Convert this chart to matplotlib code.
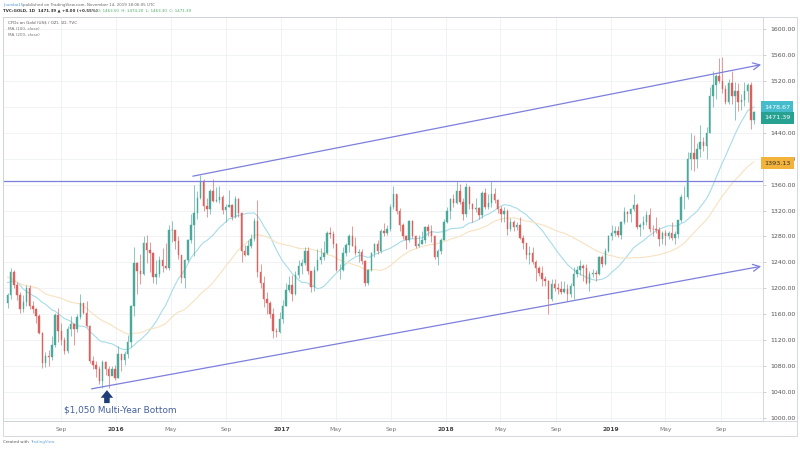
import numpy as np
import pandas as pd
import matplotlib
matplotlib.use("Agg")
import matplotlib.pyplot as plt
import matplotlib.dates as mdates
import matplotlib.transforms as mtrans
from matplotlib.patches import Rectangle

# weekly closes before the visible window (only used to warm up the moving averages)
pre_close = [1293, 1311, 1305, 1287,
             1268, 1230, 1216, 1215,
             1192, 1222, 1239, 1231, 1172,
             1169, 1185, 1201, 1175,
             1191, 1222, 1195, 1195, 1184,
             1216, 1277, 1294, 1279,
             1234, 1228, 1204, 1213,
             1167, 1153, 1183, 1199,
             1195, 1207, 1203, 1179, 1178]

# weekly candles, week ending 2015-05-08 .. 2019-11-15
close = [
    # 2015
    1189, 1225, 1205, 1190,
    1168, 1179, 1201, 1173,
    1168, 1157, 1131, 1085, 1095,
    1094, 1113, 1159, 1134,
    1121, 1103, 1138, 1145,
    1137, 1156, 1177, 1162, 1142,
    1088, 1081, 1076, 1057,
    1086, 1075, 1065, 1076,
    # 2016
    1061, 1098, 1089, 1098, 1117,
    1173, 1239, 1227, 1222,
    1270, 1259, 1255, 1217,
    1222, 1243, 1235, 1232, 1290,
    1290, 1273, 1252, 1216,
    1243, 1275, 1298, 1316,
    1340, 1366, 1327, 1322, 1350,
    1335, 1336, 1341, 1321,
    1326, 1328, 1310, 1338, 1316,
    1257, 1251, 1266, 1276,
    1304, 1225, 1208, 1183,
    1177, 1160, 1134, 1132, 1152,
    # 2017
    1173, 1197, 1205, 1191,
    1220, 1234, 1239, 1257,
    1226, 1202, 1229, 1243, 1249,
    1254, 1286, 1284, 1268,
    1228, 1228, 1254, 1267,
    1280, 1266, 1254, 1256, 1242,
    1209, 1228, 1255, 1269,
    1258, 1289, 1285, 1291,
    1325, 1346, 1320, 1297, 1280,
    1274, 1304, 1280, 1266,
    1269, 1274, 1294, 1288,
    1280, 1248, 1257, 1275, 1303,
    # 2018
    1320, 1338, 1332, 1350,
    1333, 1315, 1356, 1330,
    1323, 1324, 1313, 1347, 1325,
    1332, 1345, 1336, 1323,
    1315, 1320, 1291, 1302,
    1294, 1298, 1278, 1270, 1252,
    1255, 1241, 1231, 1223,
    1214, 1212, 1184, 1206, 1201,
    1199, 1194, 1199, 1192,
    1203, 1222, 1228, 1235,
    1232, 1209, 1222, 1223, 1222,
    1248, 1238, 1257, 1280,
    # 2019
    1285, 1289, 1282, 1303,
    1318, 1314, 1322, 1329,
    1294, 1298, 1302, 1313, 1292,
    1291, 1290, 1276, 1286,
    1280, 1285, 1277, 1284, 1305,
    1341, 1341, 1400, 1409,
    1399, 1415, 1426, 1419,
    1440, 1497, 1513, 1527, 1520,
    1507, 1488, 1517, 1497,
    1505, 1488, 1490, 1505,
    1514, 1459, 1471.39,
]

high = [
    1193, 1232, 1228, 1210,
    1195, 1189, 1205, 1205,
    1180, 1170, 1160, 1133, 1102,
    1105, 1126, 1162, 1170,
    1146, 1125, 1142, 1157,
    1147, 1160, 1191, 1178, 1180,
    1143, 1096, 1088, 1080,
    1089, 1088, 1080, 1080,
    1082, 1111, 1098, 1103, 1128,
    1174, 1263, 1241, 1253,
    1280, 1283, 1271, 1256,
    1244, 1250, 1262, 1270, 1297,
    1304, 1283, 1280, 1252,
    1245, 1276, 1315, 1359,
    1350, 1375, 1368, 1340, 1353,
    1368, 1357, 1358, 1344,
    1330, 1352, 1330, 1343, 1340,
    1317, 1267, 1274, 1284,
    1308, 1337, 1237, 1219,
    1195, 1180, 1169, 1139, 1164,
    1182, 1208, 1219, 1221,
    1226, 1244, 1245, 1264,
    1263, 1227, 1234, 1260, 1262,
    1273, 1289, 1295, 1289,
    1270, 1237, 1264, 1270,
    1284, 1296, 1279, 1260, 1260,
    1244, 1230, 1256, 1270,
    1274, 1291, 1301, 1297,
    1330, 1358, 1346, 1324, 1301,
    1283, 1306, 1306, 1283,
    1283, 1288, 1296, 1299,
    1298, 1282, 1260, 1277, 1307,
    1326, 1339, 1345, 1366,
    1361, 1339, 1362, 1358,
    1331, 1340, 1326, 1350, 1355,
    1346, 1365, 1355, 1338,
    1327, 1326, 1322, 1308,
    1306, 1303, 1310, 1283, 1270,
    1265, 1263, 1244, 1235,
    1234, 1219, 1213, 1215, 1214,
    1209, 1212, 1211, 1206,
    1208, 1233, 1234, 1243,
    1238, 1237, 1226, 1230, 1229,
    1250, 1252, 1262, 1283,
    1298, 1296, 1296, 1304,
    1326, 1320, 1324, 1346,
    1331, 1301, 1311, 1320, 1324,
    1298, 1310, 1295, 1288,
    1290, 1289, 1303, 1288, 1306,
    1346, 1358, 1411, 1439,
    1437, 1424, 1452, 1434,
    1449, 1510, 1535, 1530, 1555,
    1557, 1513, 1523, 1535,
    1519, 1516, 1499, 1518,
    1517, 1518, 1474,
]

low = [
    1170, 1183, 1201, 1182,
    1162, 1163, 1172, 1168,
    1162, 1147, 1130, 1077, 1078,
    1080, 1090, 1110, 1118,
    1112, 1098, 1100, 1126,
    1113, 1133, 1152, 1160, 1141,
    1085, 1075, 1063, 1052,
    1046, 1066, 1046, 1066,
    1058, 1061, 1073, 1082, 1093,
    1110, 1157, 1191, 1207,
    1221, 1239, 1225, 1208,
    1207, 1218, 1225, 1230, 1229,
    1272, 1260, 1245, 1209,
    1200, 1241, 1270, 1250,
    1307, 1338, 1320, 1310, 1314,
    1333, 1333, 1331, 1314,
    1302, 1326, 1305, 1309, 1310,
    1241, 1250, 1252, 1262,
    1273, 1218, 1201, 1171,
    1160, 1155, 1123, 1125, 1131,
    1147, 1172, 1195, 1180,
    1190, 1216, 1222, 1236,
    1222, 1195, 1196, 1227, 1238,
    1243, 1253, 1278, 1262,
    1227, 1214, 1227, 1250,
    1256, 1265, 1251, 1240, 1237,
    1204, 1205, 1227, 1248,
    1253, 1255, 1281, 1282,
    1288, 1322, 1315, 1288, 1276,
    1260, 1272, 1278, 1262,
    1264, 1268, 1270, 1280,
    1272, 1245, 1236, 1253, 1274,
    1301, 1307, 1325, 1330,
    1330, 1306, 1310, 1322,
    1303, 1317, 1307, 1309, 1322,
    1322, 1325, 1332, 1316,
    1302, 1303, 1283, 1289,
    1289, 1290, 1276, 1261, 1246,
    1238, 1237, 1211, 1219,
    1204, 1204, 1160, 1180, 1196,
    1191, 1191, 1193, 1181,
    1186, 1183, 1218, 1221,
    1212, 1206, 1196, 1217, 1212,
    1221, 1233, 1236, 1256,
    1275, 1280, 1279, 1276,
    1300, 1302, 1302, 1320,
    1292, 1281, 1291, 1298, 1287,
    1280, 1285, 1266, 1268,
    1267, 1276, 1275, 1268, 1278,
    1303, 1322, 1338, 1383,
    1381, 1385, 1402, 1412,
    1400, 1440, 1480, 1492, 1516,
    1502, 1485, 1484, 1485,
    1459, 1474, 1475, 1481,
    1487, 1446, 1453,
]

tick_dates = ["2015-09-01", "2016-01-01", "2016-05-01", "2016-09-01", "2017-01-01",
              "2017-05-01", "2017-09-01", "2018-01-01", "2018-05-01", "2018-09-01",
              "2019-01-01", "2019-05-01", "2019-09-01"]
tick_labels = ["Sep", "2016", "May", "Sep", "2017", "May", "Sep",
               "2018", "May", "Sep", "2019", "May", "Sep"]
price_ticks = list(range(1000, 1601, 40))
hidden_ticks = [1480]   # covered by the last-value labels

# channel / level drawings (date, price)
upper_line = [("2016-06-19", 1373), ("2019-11-29", 1545)]
lower_line = [("2015-11-08", 1045), ("2019-11-29", 1234)]
level = 1366

ma_fast, ma_slow = 20, 40   # weekly equivalents of the 100 / 200 day MAs

# ---------------------------------------------------------------------------
n = len(close)
dates = pd.date_range("2015-05-08", periods=n, freq="W-FRI") - pd.Timedelta(days=2)
x = mdates.date2num(dates)
c = np.array(close, dtype=float)
o = np.r_[pre_close[-1], c[:-1]]
h = np.array(high, dtype=float)
l = np.array(low, dtype=float)

allc = pd.Series(list(pre_close) + list(close), dtype=float)
ma1 = allc.rolling(ma_fast, min_periods=1).mean().values[len(pre_close):]
ma2 = allc.rolling(ma_slow, min_periods=1).mean().values[len(pre_close):]

UP, DN = "#4aa99a", "#d9615e"

fig = plt.figure(figsize=(8, 4.49), dpi=100)
ax = fig.add_axes([3 / 800, 1 - 421 / 449, 760 / 800, 404 / 449])

ax.set_xlim(mdates.datestr2num("2015-04-26"), mdates.datestr2num("2019-12-03"))
ax.set_ylim(995.4, 1618.5)

ax.grid(True, color="#eef0f5", lw=0.6)
ax.set_axisbelow(True)

ax.plot(x, ma1, color="#a6dce8", lw=0.8, zorder=2)
ax.plot(x, ma2, color="#f7e2c0", lw=0.8, zorder=2)

cols = np.where(c >= o, UP, DN)
ax.vlines(x, l, h, colors=cols, lw=0.45, zorder=3)
ax.bar(x, np.abs(c - o), bottom=np.minimum(o, c), width=3.2, color=cols,
       edgecolor=cols, lw=0.3, zorder=4)

LINE = "#7d7fdc"
ax.axhline(level, color=LINE, lw=0.9, zorder=5)
for (d0, p0), (d1, p1) in (upper_line, lower_line):
    ax.annotate("", xy=(mdates.datestr2num(d1), p1), xytext=(mdates.datestr2num(d0), p0),
                arrowprops=dict(arrowstyle="->,head_length=0.5,head_width=0.25",
                                color=LINE, lw=0.9, shrinkA=0, shrinkB=0), zorder=5)

# bottom annotation
ax.annotate("", xy=(mdates.datestr2num("2015-12-12"), 1043),
            xytext=(mdates.datestr2num("2015-12-12"), 1023),
            arrowprops=dict(arrowstyle="simple,head_width=0.9,head_length=0.55,tail_width=0.4",
                            color="#1f3d78", lw=0, shrinkA=0, shrinkB=0), zorder=6)
ax.text(mdates.datestr2num("2015-09-07"), 1012, "$1,050 Multi-Year Bottom",
        fontsize=6.4, color="#44609e", va="center", ha="left")

# axes styling
ax.set_xticks(mdates.datestr2num(tick_dates))
ax.set_xticklabels(tick_labels)
for t, lab in zip(ax.get_xticklabels(), tick_labels):
    if lab.isdigit():
        t.set_fontweight("bold")
        t.set_color("#444444")
    else:
        t.set_color("#777777")
ax.tick_params(axis="x", length=0, pad=4.5, labelsize=4.3)

ax.yaxis.tick_right()
ax.set_yticks(price_ticks)
ax.set_yticklabels(["" if p in hidden_ticks else f"{p:.2f}" for p in price_ticks])
ax.tick_params(axis="y", length=2, width=0.5, color="#bbbbbb", pad=3,
               labelsize=4.5, labelcolor="#555555")
for s in ax.spines.values():
    s.set_color("#cfd3da")
    s.set_linewidth(0.6)

# price labels on the right scale
tr = mtrans.blended_transform_factory(ax.transAxes, ax.transData)
for val, ypos, fc, tc in ((1478.67, 1479.5, "#45bccb", "white"),
                          (1471.39, 1463.0, "#27a192", "white"),
                          (1393.13, 1393.13, "#f3b23a", "#333333")):
    ax.text(1.0015, ypos, f"{val:.2f}", transform=tr, fontsize=4.6, color=tc,
            va="center", ha="left",
            bbox=dict(boxstyle="square,pad=0.5", fc=fc, ec="none"), zorder=10,
            clip_on=False)

# outer frame of the chart image (price column + time row)
fig.add_artist(Rectangle((3 / 800, 1 - 436 / 449), 794 / 800, 419 / 449,
                         transform=fig.transFigure, fill=False, ec="#cfd3da", lw=0.6))
fig.add_artist(plt.Line2D([3 / 800, 797 / 800], [1 - 421 / 449] * 2,
                          transform=fig.transFigure, color="#cfd3da", lw=0.6))

# header and legend texts
fig.text(3 / 800, 1 - 5 / 449, "jhumbo15", fontsize=2.9, color="#4f95d6", va="center")
fig.text(23 / 800, 1 - 5 / 449, "published on TradingView.com, November 14, 2019 18:06:05 UTC",
         fontsize=2.9, color="#666666", va="center")
fig.text(3 / 800, 1 - 11 / 449, "TVC:GOLD, 1D  1471.39 \u25b2 +8.00 (+0.55%)",
         fontsize=2.9, color="#333333", va="center", fontweight="bold")
fig.text(97 / 800, 1 - 11 / 449,
         "O: 1463.50  H: 1474.20  L: 1463.30  C: 1471.39",
         fontsize=2.9, color="#4fa86a", va="center")
fig.text(8 / 800, 1 - 22 / 449, "CFDs on Gold (US$ / OZ), 1D, TVC", fontsize=3.0,
         color="#555555", va="center")
fig.text(8 / 800, 1 - 28.5 / 449, "MA (100, close)", fontsize=3.0, color="#777777", va="center")
fig.text(8 / 800, 1 - 35 / 449, "MA (200, close)", fontsize=3.0, color="#777777", va="center")
fig.text(3 / 800, 1 - 442 / 449, "Created with", fontsize=2.9, color="#555555", va="center")
fig.text(30 / 800, 1 - 442 / 449, "TradingView", fontsize=2.9, color="#6aa6d9", va="center")

fig.savefig("out.png", dpi=100)
